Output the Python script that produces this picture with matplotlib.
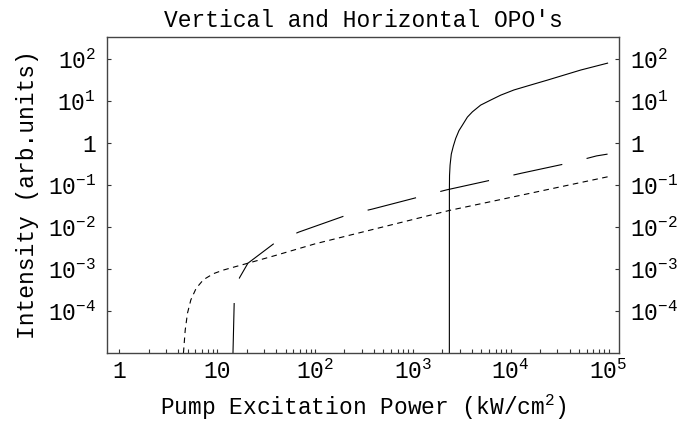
import numpy as np
import matplotlib
matplotlib.use("Agg")
import matplotlib.pyplot as plt
from matplotlib.ticker import FixedLocator, FixedFormatter, NullLocator

plt.rcParams['font.family'] = ['Liberation Mono', 'DejaVu Sans Mono']
plt.rcParams['mathtext.fontset'] = 'custom'
plt.rcParams['mathtext.rm'] = 'Liberation Mono'
plt.rcParams['mathtext.it'] = 'Liberation Mono'
plt.rcParams['lines.scale_dashes'] = False

# curves (x in kW/cm^2, y in arb. units)
# short-dash curve, threshold ~4.5
dot_x = [4.52, 4.71, 4.97, 5.38, 6.10, 7.24, 9.17, 11.6, 15.3, 20.6, 39.0, 100, 2360, 100000]
dot_y = [1e-5, 3.5e-5, 8.9e-5, 1.85e-4, 3.5e-4, 5.6e-4, 7.8e-4, 9.5e-4, 1.14e-3,
         1.38e-3, 2.1e-3, 4.0e-3, 0.025, 0.16]

# long-dash curve, threshold ~14.5
dash_x = [14.5, 14.93, 16.9, 20.6, 39.3, 68, 213, 384, 1200, 2213, 7145, 12880,
          41110, 75510, 97700]
dash_y = [1e-5, 1.7e-4, 6.2e-4, 1.38e-3, 4.3e-3, 7.6e-3, 0.0195, 0.0269, 0.0536,
          0.0773, 0.141, 0.193, 0.345, 0.499, 0.55]

# solid curve, threshold ~2360
solid_x = [2360, 2362, 2370, 2400, 2470, 2590, 2740, 2960, 3210, 3610, 4060,
           4930, 6250, 7910, 10800, 16000, 23800, 52100, 97700]
solid_y = [1e-5, 0.08, 0.17, 0.30, 0.55, 0.85, 1.30, 2.0, 2.7, 4.2, 5.6,
           8.1, 10.7, 14.0, 18.6, 24.4, 32.0, 55.6, 81]

x_ticks = [1, 10, 100, 1000, 10000, 100000]
x_labels = ['1', '10', r'$\mathregular{10^{2}}$', r'$\mathregular{10^{3}}$',
            r'$\mathregular{10^{4}}$', r'$\mathregular{10^{5}}$']
y_ticks = [1e-4, 1e-3, 1e-2, 1e-1, 1, 10, 100]
y_labels = [r'$\mathregular{10^{-4}}$', r'$\mathregular{10^{-3}}$', r'$\mathregular{10^{-2}}$',
            r'$\mathregular{10^{-1}}$', '1', r'$\mathregular{10^{1}}$', r'$\mathregular{10^{2}}$']
x_minor = [m * 10.0 ** e for e in range(0, 5) for m in range(2, 10)]

fig = plt.figure(figsize=(6.99, 4.21), dpi=100)
ax = fig.add_axes([0.1531, 0.1615, 0.7325, 0.7506])

ax.plot(dot_x, dot_y, color='black', lw=0.8, dashes=(4.0, 3.2))
ax.plot(dash_x, dash_y, color='black', lw=0.8, dashes=(36, 18))
ax.plot(solid_x, solid_y, color='black', lw=0.8)

ax.set_xscale('log')
ax.set_yscale('log')
ax.set_xlim(0.748, 1.28e5)
ax.set_ylim(1e-5, 340)

ax.xaxis.set_major_locator(FixedLocator(x_ticks))
ax.xaxis.set_major_formatter(FixedFormatter(x_labels))
ax.xaxis.set_minor_locator(FixedLocator(x_minor))
ax.yaxis.set_major_locator(FixedLocator(y_ticks))
ax.yaxis.set_major_formatter(FixedFormatter(y_labels))
ax.yaxis.set_minor_locator(NullLocator())

ax.tick_params(axis='x', which='both', direction='in', length=3, width=0.8,
               color='#333333', labelsize=16.5, pad=5, top=False)
ax.tick_params(axis='y', which='both', direction='in', length=3, width=0.8,
               color='#333333', labelsize=16.5, pad=8, left=True, right=True,
               labelleft=True, labelright=True)

for s in ax.spines.values():
    s.set_linewidth(1.0)
    s.set_color('#444444')

ax.set_title("Vertical and Horizontal OPO's", fontsize=16.5, pad=7)
ax.set_xlabel(r'Pump Excitation Power (kW/cm$\mathregular{^{2}}$)', fontsize=16.5, labelpad=6)
ax.set_ylabel('Intensity (arb.units)', fontsize=16.5, labelpad=6)

fig.savefig('out.png', dpi=100)
